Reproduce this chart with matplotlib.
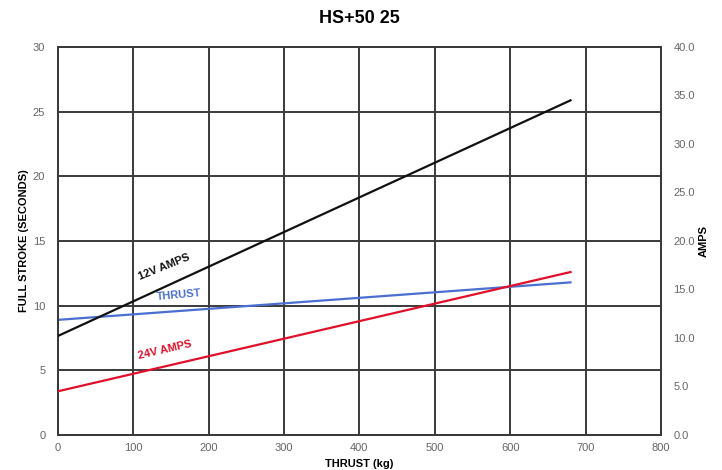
import matplotlib.pyplot as plt
import numpy as np

plt.rcParams["font.family"] = ["Liberation Sans", "DejaVu Sans"]

# thrust (kg) at the two ends of each straight line
thrust_kg = [0, 680]
stroke_s = [8.9, 11.8]          # full stroke time, left axis
amps_12v = [10.2, 34.5]         # right axis
amps_24v = [4.5, 16.8]          # right axis

x_ticks = [0, 100, 200, 300, 400, 500, 600, 700, 800]
y_ticks = [0, 5, 10, 15, 20, 25, 30]
amp_ticks = [0, 5, 10, 15, 20, 25, 30, 35, 40]

tick_col = "#666666"
grid_col = "#3a3a3a"

fig = plt.figure(figsize=(7.22, 4.70), dpi=100)
ax = fig.add_axes([0.080, 0.0745, 0.8355, 0.8255])
ax2 = ax.twinx()

ax.set_xlim(0, 800)
ax.set_ylim(0, 30)
ax2.set_ylim(0, 40)

ax.set_xticks(x_ticks)
ax.set_yticks(y_ticks)
ax2.set_yticks(amp_ticks)
ax2.set_yticklabels([f"{v:.1f}" for v in amp_ticks])

ax.grid(True, color=grid_col, linewidth=1.4)
ax.set_axisbelow(True)
for a in (ax, ax2):
    for s in a.spines.values():
        s.set_color(grid_col)
        s.set_linewidth(1.4)
    a.tick_params(length=0, labelsize=8, colors=tick_col, pad=6)
ax.tick_params(axis="y", pad=9)
ax2.tick_params(axis="y", pad=9)

ax.plot(thrust_kg, stroke_s, color="#4a6fd0", linewidth=1.6, zorder=3)
ax2.plot(thrust_kg, amps_12v, color="#111111", linewidth=1.6, zorder=3)
ax2.plot(thrust_kg, amps_24v, color="#e0102a", linewidth=1.6, zorder=3)

ax.text(105, 13.0, "12V AMPS", color="#111111", fontsize=8, fontweight="bold",
        rotation=22, ha="left", va="center")
ax.text(130, 10.8, "THRUST", color="#4a6fd0", fontsize=8, fontweight="bold",
        rotation=5, ha="left", va="center")
ax.text(105, 6.6, "24V AMPS", color="#e0102a", fontsize=8, fontweight="bold",
        rotation=13, ha="left", va="center")

ax.set_title("HS+50 25", fontsize=13, fontweight="bold", pad=17)
ax.set_ylabel("FULL STROKE (SECONDS)", fontsize=8, fontweight="bold", labelpad=3)
ax2.set_ylabel("AMPS", fontsize=8, fontweight="bold", labelpad=3)
ax.set_xlabel("THRUST (kg)", fontsize=8, fontweight="bold", labelpad=4)

fig.savefig("out.png", dpi=100)
